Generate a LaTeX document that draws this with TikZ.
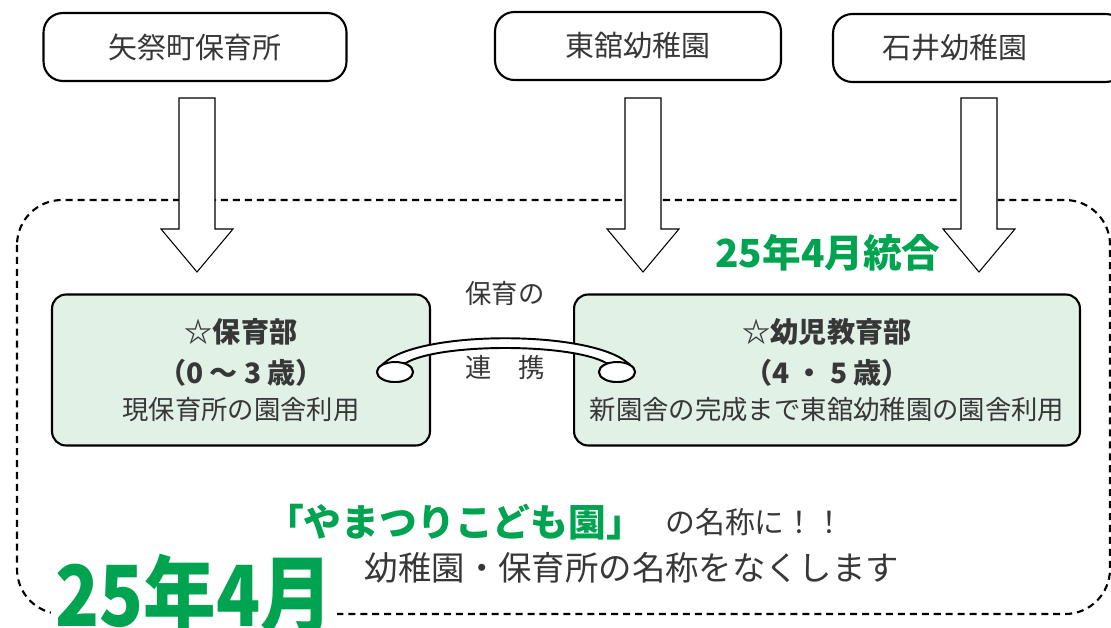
\documentclass[tikz,border=0pt]{standalone}
\usepackage{fontspec}
\setmainfont{Noto Sans CJK JP}
\usepackage{tikz}
\usetikzlibrary{shapes.geometric}
\definecolor{vert}{RGB}{0,164,80}
\definecolor{vertclair}{RGB}{226,241,230}
\definecolor{gristexte}{RGB}{55,55,55}

\begin{document}
\begin{tikzpicture}[x=0.02cm,y=-0.02cm,
  ecole/.style={draw,line width=1.2pt,rounded corners=11pt,minimum height=1.36cm,text=gristexte,font=\fontsize{16.5}{18}\selectfont},
  section/.style={draw,line width=1.2pt,rounded corners=8pt,fill=vertclair,minimum height=3.02cm,align=center,text=gristexte},
  fleche/.style={draw,line width=0.6pt,fill=white},
  anneau/.style={ellipse,draw,line width=1.1pt,fill=white,minimum width=0.72cm,minimum height=0.4cm,inner sep=0pt}]
\clip (0,0) rectangle (1111,628);
% cadre pointille
\draw[line width=1.2pt,dash pattern=on 4pt off 2.8pt,rounded corners=0.9cm] (17,200) rectangle (1110,614);
% ecoles
\node[ecole,minimum width=6.06cm] (yamatsuri) at (195,47) {矢祭町保育所};
\node[ecole,minimum width=5.72cm] (higashi) at (638,46) {東舘幼稚園};
\node[ecole,minimum width=5.84cm] (ishii) at (979,48) {};
\node[text=gristexte,font=\fontsize{16.5}{18}\selectfont] (ishiitexte) at (955,48) {石井幼稚園};
\foreach \ax in {197,643,979}
  \draw[fleche] (\ax-18,98) -- (\ax+18,98) -- (\ax+18,229) -- (\ax+36,229) -- (\ax,272) -- (\ax-36,229) -- (\ax-18,229) -- cycle;
\node[text=vert,font=\bfseries\fontsize{22}{24}\selectfont] (tougou) at (828,253) {25年4月統合};
% sections
\node[section,minimum width=7.56cm] (hoiku) at (241,370) {{\bfseries\fontsize{16}{18}\selectfont ☆保育部}\\[7pt]
  {\bfseries\fontsize{16}{18}\selectfont （0 ～ 3 歳）}\\[5pt]
  {\fontsize{15}{16}\selectfont 現保育所の園舎利用}};
\node[section,minimum width=10.12cm] (youji) at (827,370) {{\bfseries\fontsize{16}{18}\selectfont ☆幼児教育部}\\[7pt]
  {\bfseries\fontsize{16}{18}\selectfont （4 ・ 5 歳）}\\[5pt]
  {\fontsize{15}{16}\selectfont 新園舎の完成まで東舘幼稚園の園舎利用}};
% lien
\node[anneau] (gauche) at (395,372) {};
\node[anneau] (droite) at (617,372) {};
\draw[line width=1.1pt,fill=white] (gauche.140) .. controls (420,330) and (590,330) .. (droite.40)
  -- (droite.140) .. controls (570,343) and (440,343) .. (gauche.40) -- cycle;
\node[anneau] at (gauche) {};
\node[anneau] at (droite) {};
\node[text=gristexte,font=\fontsize{15}{17}\selectfont] (renkei1) at (505,293) {保育の};
\node[text=gristexte,font=\fontsize{15}{17}\selectfont] (renkei2) at (505,368) {連　携};
% nom
\node[text=vert,font=\bfseries\fontsize{21.5}{24}\selectfont] (nom) at (455,522) {「やまつりこども園」};
\node[text=gristexte,font=\fontsize{17}{19}\selectfont,anchor=west,inner sep=0pt] (nom2) at (665,522) {の名称に！！};
\node[text=gristexte,font=\fontsize{19}{21}\selectfont] (nom3) at (632,568) {幼稚園・保育所の名称をなくします};
\node[text=vert,fill=white,font=\bfseries\fontsize{48}{48}\selectfont,xscale=0.86,inner sep=3pt] (date) at (194,594) {25年4月};
\end{tikzpicture}
\end{document}
